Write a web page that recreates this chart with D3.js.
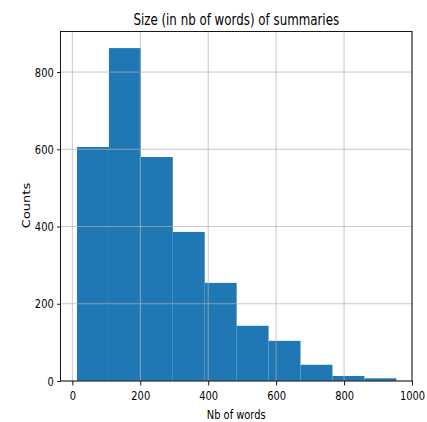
<!DOCTYPE html>
<html>
<head>
<meta charset="utf-8">
<script src="https://cdn.jsdelivr.net/npm/d3@7"></script>
<style>
  body { margin: 0; background: #fff; }
  svg { font-family: "DejaVu Sans", sans-serif; }
</style>
</head>
<body>
<svg id="chart"></svg>
<script>
// histogram bins (nb of words) and counts
const binEdges = [13.8, 107.8, 201.8, 295.8, 389.8, 483.8, 577.8, 671.8, 765.8, 859.8, 953.8];
const counts = [606, 862, 580, 386, 254, 143, 104, 42, 13, 7];
const xTicks = [0, 200, 400, 600, 800, 1000];
const yTicks = [0, 200, 400, 600, 800];

const w = 427, h = 422;
const margin = {top: 31.5, right: 15, bottom: 41, left: 60.5};
const iw = w - margin.left - margin.right;
const ih = h - margin.top - margin.bottom;
// the text in the picture is squeezed sideways
const sx = 0.76;

const svg = d3.select('#chart')
  .attr('width', w)
  .attr('height', h);

const g = svg.append('g')
  .attr('transform', `translate(${margin.left},${margin.top})`);

// scales
const xScale = d3.scaleLinear()
  .domain([-34.8, 1000])
  .range([0, iw]);

const yScale = d3.scaleLinear()
  .domain([0, 905])
  .range([ih, 0]);

const bins = counts.map((c, i) => ({x0: binEdges[i], x1: binEdges[i + 1], n: c}));

// bars
g.selectAll('.bar')
  .data(bins)
  .join('rect')
  .attr('class', 'bar')
  .attr('x', d => xScale(d.x0))
  .attr('width', d => xScale(d.x1) - xScale(d.x0))
  .attr('y', d => yScale(d.n))
  .attr('height', d => yScale(0) - yScale(d.n))
  .attr('fill', '#1f77b4');

// grid lines drawn over the bars
g.append('g')
  .selectAll('line')
  .data(xTicks)
  .join('line')
  .attr('x1', d => xScale(d)).attr('x2', d => xScale(d))
  .attr('y1', 0).attr('y2', ih)
  .attr('stroke', '#b0b0b0').attr('stroke-width', 1).attr('stroke-opacity', 0.7);

g.append('g')
  .selectAll('line')
  .data(yTicks)
  .join('line')
  .attr('x1', 0).attr('x2', iw)
  .attr('y1', d => yScale(d)).attr('y2', d => yScale(d))
  .attr('stroke', '#b0b0b0').attr('stroke-width', 1).attr('stroke-opacity', 0.7);

// axes
const xAxis = d3.axisBottom(xScale)
  .tickValues(xTicks)
  .tickSize(4.5)
  .tickPadding(5.5)
  .tickFormat(d3.format('d'));

const yAxis = d3.axisLeft(yScale)
  .tickValues(yTicks)
  .tickSize(3.4)
  .tickPadding(3.4)
  .tickFormat(d3.format('d'));

const gx = g.append('g')
  .attr('transform', `translate(0, ${ih})`)
  .call(xAxis);
const gy = g.append('g')
  .call(yAxis);

[gx, gy].forEach(a => {
  a.select('.domain').remove();
  a.selectAll('line').attr('stroke', '#000').attr('stroke-width', 0.9);
  a.selectAll('text').each(function() {
    const t = d3.select(this);
    const tx = +t.attr('x') || 0;
    t.attr('x', 0)
      .attr('transform', `translate(${tx},0) scale(${sx},1)`)
      .attr('font-size', 13)
      .attr('fill', '#000')
      .style('font-family', '"DejaVu Sans", sans-serif');
  });
});

// frame
g.append('rect')
  .attr('width', iw).attr('height', ih)
  .attr('fill', 'none').attr('stroke', '#000').attr('stroke-width', 0.9);

// labels
const cx = margin.left + iw / 2;
svg.append('text')
  .attr('transform', `translate(${cx}, 24.8) scale(${sx},1)`)
  .attr('text-anchor', 'middle')
  .attr('font-size', 15.6)
  .text('Size (in nb of words) of summaries');

svg.append('text')
  .attr('transform', `translate(${cx}, 419) scale(${sx},1)`)
  .attr('text-anchor', 'middle')
  .attr('font-size', 13)
  .text('Nb of words');

svg.append('text')
  .attr('transform', `translate(30, 205.5) scale(${sx},1) rotate(-90)`)
  .attr('text-anchor', 'middle')
  .attr('font-size', 13)
  .text('Counts');
</script>
</body>
</html>
